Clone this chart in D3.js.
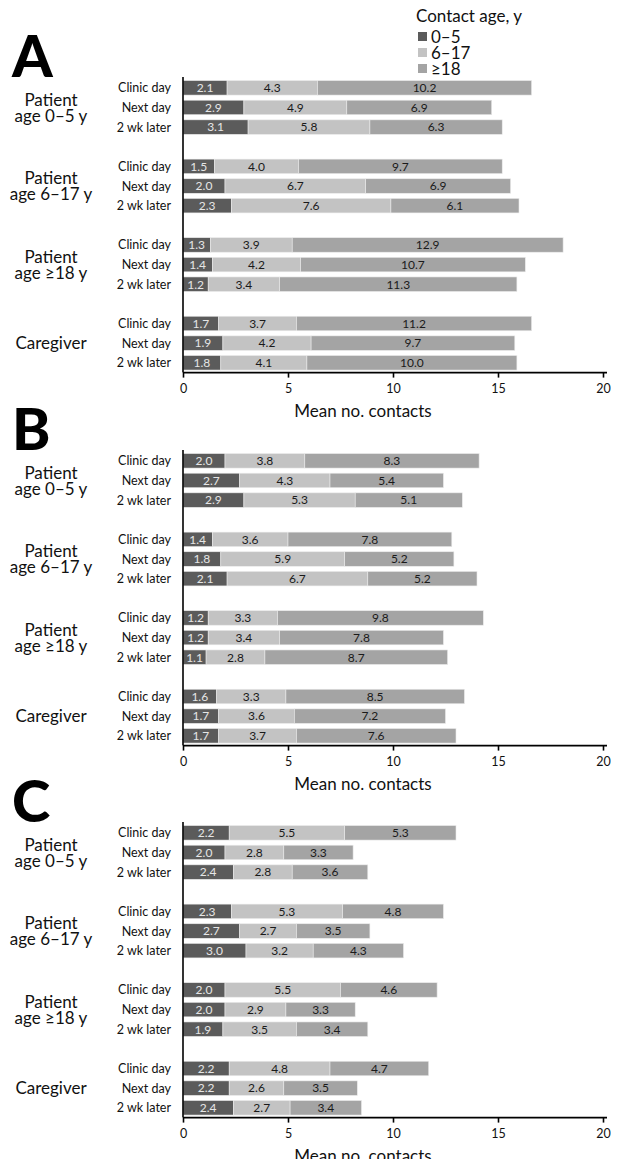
<!DOCTYPE html>
<html>
<head>
<meta charset="utf-8">
<script src="https://cdn.jsdelivr.net/npm/d3@7"></script>
<style>
  html, body { margin: 0; padding: 0; background: #fff; }
  svg { display: block; font-family: Lato, "Open Sans", sans-serif; }
</style>
</head>
<body>
<svg id="chart" width="622" height="1159"></svg>
<script>
// ---------- data ----------
const panelLetters = ["A", "B", "C"];
const contactAges = ["0–5", "6–17", "≥18"];
const groupLabels = [
  ["Patient", "age 0–5 y"],
  ["Patient", "age 6–17 y"],
  ["Patient", "age ≥18 y"],
  ["Caregiver"]
];
const timepoints = ["Clinic day", "Next day", "2 wk later"];
const xTicks = [0, 5, 10, 15, 20];
const axisTitle = "Mean no. contacts";
const legendTitle = "Contact age, y";

// values per panel: [group][timepoint] = [0–5, 6–17, ≥18]
const valuesA = [
  [[2.1, 4.3, 10.2], [2.9, 4.9, 6.9], [3.1, 5.8, 6.3]],
  [[1.5, 4.0, 9.7], [2.0, 6.7, 6.9], [2.3, 7.6, 6.1]],
  [[1.3, 3.9, 12.9], [1.4, 4.2, 10.7], [1.2, 3.4, 11.3]],
  [[1.7, 3.7, 11.2], [1.9, 4.2, 9.7], [1.8, 4.1, 10.0]]
];
const valuesB = [
  [[2.0, 3.8, 8.3], [2.7, 4.3, 5.4], [2.9, 5.3, 5.1]],
  [[1.4, 3.6, 7.8], [1.8, 5.9, 5.2], [2.1, 6.7, 5.2]],
  [[1.2, 3.3, 9.8], [1.2, 3.4, 7.8], [1.1, 2.8, 8.7]],
  [[1.6, 3.3, 8.5], [1.7, 3.6, 7.2], [1.7, 3.7, 7.6]]
];
const valuesC = [
  [[2.2, 5.5, 5.3], [2.0, 2.8, 3.3], [2.4, 2.8, 3.6]],
  [[2.3, 5.3, 4.8], [2.7, 2.7, 3.5], [3.0, 3.2, 4.3]],
  [[2.0, 5.5, 4.6], [2.0, 2.9, 3.3], [1.9, 3.5, 3.4]],
  [[2.2, 4.8, 4.7], [2.2, 2.6, 3.5], [2.4, 2.7, 3.4]]
];
const panelValues = [valuesA, valuesB, valuesC];

// ---------- style / layout ----------
const colors = ["#5b5b5b", "#c3c3c3", "#a4a4a4"];
const labelColors = ["#e6e6e6", "#1a1a1a", "#1a1a1a"];
const plotLeft = 183, plotRight = 603;
const panelTops = [78, 451, 823];
const plotH = 294.6;

const svg = d3.select("#chart");
const x = d3.scaleLinear().domain([0, 20]).range([plotLeft, plotRight]);
const color = d3.scaleOrdinal().domain(contactAges).range(colors);

// slot keys: 3 rows per group plus a spacer slot between groups
const slots = [];
groupLabels.forEach((g, gi) => {
  timepoints.forEach((t, ti) => slots.push(gi + "|" + ti));
  if (gi < groupLabels.length - 1) slots.push("gap" + gi);
});

panelLetters.forEach((letter, pi) => {
  const top = panelTops[pi];
  const y = d3.scaleBand().domain(slots).range([top, top + plotH])
    .paddingInner(0.26).paddingOuter(0.13);
  const axisY = top + plotH;
  const g = svg.append("g");

  // panel letter
  g.append("text").attr("x", 12).attr("y", top - 1)
    .attr("font-size", 58).attr("font-weight", 900).attr("fill", "#000")
    .text(letter);

  // bars
  const vals = panelValues[pi];
  vals.forEach((grp, gi) => {
    grp.forEach((row, ti) => {
      const key = gi + "|" + ti;
      const stacked = [];
      let cum = 0;
      row.forEach((v, ci) => { stacked.push({ v, x0: cum, x1: cum + v, ci }); cum += v; });
      const rg = g.append("g");
      rg.selectAll("rect").data(stacked).join("rect")
        .attr("x", d => x(d.x0)).attr("width", d => x(d.x1) - x(d.x0))
        .attr("y", y(key)).attr("height", y.bandwidth())
        .attr("fill", d => color(contactAges[d.ci]))
        .attr("stroke", "#ececec").attr("stroke-width", 0.6);
      rg.selectAll("text.val").data(stacked).join("text").attr("class", "val")
        .attr("x", d => x((d.x0 + d.x1) / 2))
        .attr("y", y(key) + y.bandwidth() / 2)
        .attr("dy", "0.36em").attr("text-anchor", "middle")
        .attr("font-size", 12).attr("fill", d => labelColors[d.ci])
        .text(d => d3.format(".1f")(d.v));
      // row label
      g.append("text").attr("x", 171).attr("y", y(key) + y.bandwidth() / 2)
        .attr("dy", "0.36em").attr("text-anchor", "end")
        .attr("font-size", 12.5).attr("fill", "#111")
        .text(timepoints[ti]);
    });
    // group label
    const cy = y(gi + "|1") + y.bandwidth() / 2;
    const lines = groupLabels[gi];
    const lh = 16;
    lines.forEach((ln, li) => {
      g.append("text").attr("x", 51)
        .attr("y", cy + (li - (lines.length - 1) / 2) * lh)
        .attr("dy", "0.36em").attr("text-anchor", "middle")
        .attr("font-size", 17).attr("fill", "#111").text(ln);
    });
  });

  // y axis line
  g.append("line").attr("x1", plotLeft).attr("x2", plotLeft)
    .attr("y1", top - 1).attr("y2", axisY)
    .attr("stroke", "#000").attr("stroke-width", 1.6);

  // x axis
  const xa = g.append("g").attr("transform", `translate(0,${axisY})`)
    .call(d3.axisBottom(x).tickValues(xTicks).tickSize(5).tickPadding(7).tickSizeOuter(0));
  xa.select(".domain").attr("d", `M${plotLeft},0H${plotRight + 4}`)
    .attr("stroke", "#000").attr("stroke-width", 1.6);
  xa.selectAll(".tick line").attr("stroke", "#000").attr("stroke-width", 1.6);
  xa.selectAll(".tick text").attr("font-size", 12.5).attr("fill", "#111")
    .attr("font-family", "Lato, sans-serif");

  // axis title
  g.append("text").attr("x", 363).attr("y", axisY + 38).attr("dy", "0.36em")
    .attr("text-anchor", "middle").attr("font-size", 17).attr("fill", "#111")
    .text(axisTitle);
});

// legend (panel A only)
const lg = svg.append("g");
lg.append("text").attr("x", 416).attr("y", 22).attr("font-size", 17)
  .attr("fill", "#111").text(legendTitle);
contactAges.forEach((a, i) => {
  const yy = 36.5 + i * 16;
  lg.append("rect").attr("x", 418).attr("y", yy - 4.5).attr("width", 9).attr("height", 9)
    .attr("fill", color(a));
  lg.append("text").attr("x", 431).attr("y", yy).attr("dy", "0.36em")
    .attr("font-size", 17).attr("fill", "#111").text(a);
});
</script>
</body>
</html>
